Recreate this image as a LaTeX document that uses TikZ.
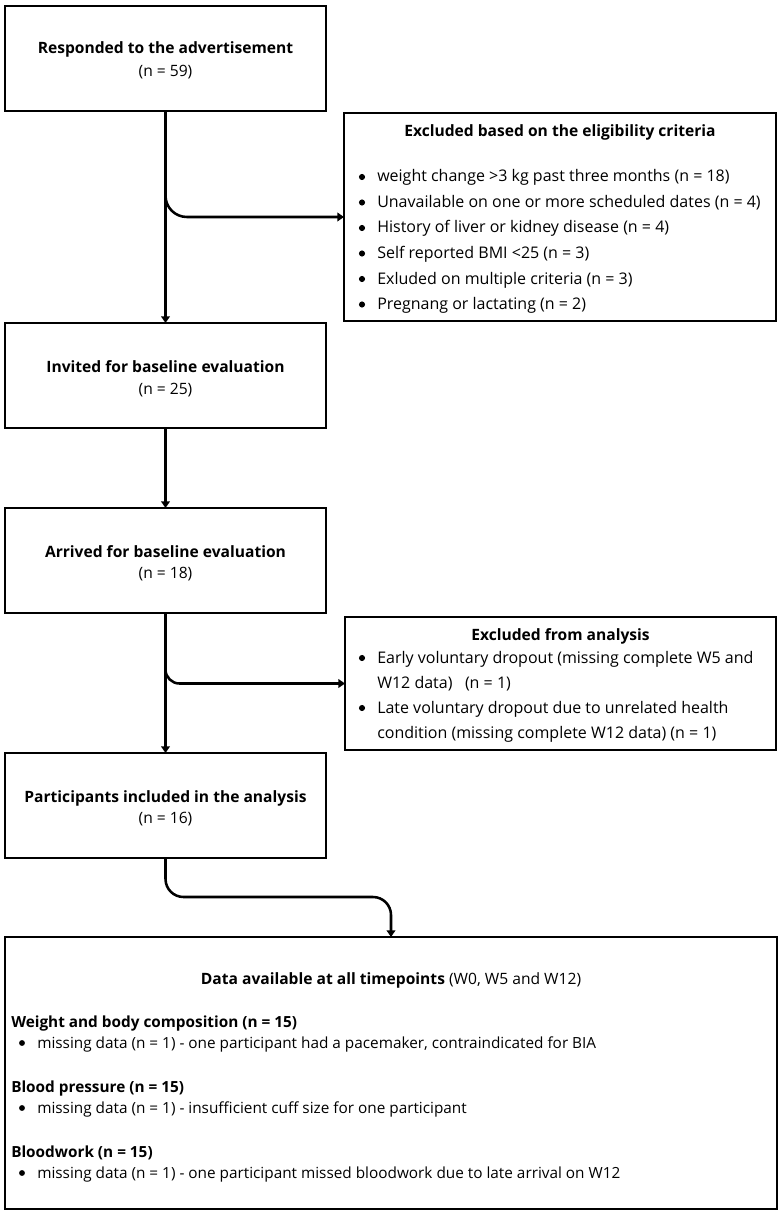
\documentclass[tikz,border=0pt]{standalone}
\usepackage{fontspec}
\setmainfont{Open Sans}
\usetikzlibrary{arrows.meta}
\begin{document}
\begin{tikzpicture}[x=0.75pt,y=-0.75pt,
  box/.style={draw=black,line width=2pt,inner sep=0pt,outer sep=0pt},
  smallbox/.style={box,minimum width=240.75pt,minimum height=78.75pt},
  conn/.style={line width=1.9pt,-{Triangle[length=5pt,width=6.5pt]}},
  tb/.style={inner sep=0pt,anchor=base,font=\fontsize{11.7}{14}\selectfont\bfseries},
  tr/.style={inner sep=0pt,anchor=base,font=\fontsize{11.7}{14}\selectfont},
  tl/.style={inner sep=0pt,anchor=base west,font=\fontsize{12}{14}\selectfont},
  tld/.style={inner sep=0pt,anchor=base west,font=\fontsize{11.5}{14}\selectfont},
  tlb/.style={inner sep=0pt,anchor=base west,font=\fontsize{11.5}{14}\selectfont\bfseries},
  dot/.style={fill=black}
]
\useasboundingbox (0,0) rectangle (781,1216);
% boxes
\node[smallbox] (b1) at (165.5,58.5) {};
\node[box,minimum width=324pt,minimum height=156pt] (e1) at (560,217) {};
\node[smallbox] (b2) at (165.5,375.5) {};
\node[smallbox] (b3) at (165.5,560.5) {};
\node[box,minimum width=323.25pt,minimum height=99.75pt] (e2) at (560.5,683.5) {};
\node[smallbox] (b4) at (165.5,805.5) {};
\node[box,minimum width=579pt,minimum height=204pt] (d) at (391,1073) {};

% box 1
\node[tb] (t1a) at (165.5,54) {Responded to the advertisement};
\node[tr] (t1b) at (165.5,77) {(n = 59)};
% excluded 1
\node[tb] (te1) at (560,137) {Excluded based on the eligibility criteria};
\node[tl] (e1l1) at (377,182) {weight change >3 kg past three months (n = 18)};
\node[tl] (e1l2) at (377,207.5) {Unavailable on one or more scheduled dates (n = 4)};
\node[tl] (e1l3) at (377,233) {History of liver or kidney disease (n = 4)};
\node[tl] (e1l4) at (377,258.5) {Self reported BMI <25 (n = 3)};
\node[tl] (e1l5) at (377,284) {Exluded on multiple criteria (n = 3)};
\node[tl] (e1l6) at (377,309.5) {Pregnang or lactating (n = 2)};
\foreach \yy in {182,207.5,233,258.5,284,309.5}{\fill[dot] (362,\yy-5) circle[radius=2.3pt];}
% box 2
\node[tb] (t2a) at (165.5,372) {Invited for baseline evaluation};
\node[tr] (t2b) at (165.5,394) {(n = 25)};
% box 3
\node[tb] (t3a) at (165.5,557) {Arrived for baseline evaluation};
\node[tr] (t3b) at (165.5,578) {(n = 18)};
% excluded 2
\node[tb] (te2) at (560.5,640) {Excluded from analysis};
\node[tl] (e2l1) at (377,663) {Early voluntary dropout (missing complete W5 and};
\node[tl] (e2l2) at (377,688) {W12 data)~~~(n = 1)};
\node[tl] (e2l3) at (377,713) {Late voluntary dropout due to unrelated health};
\node[tl] (e2l4) at (377,738) {condition (missing complete W12 data) (n = 1)};
\foreach \yy in {663,713}{\fill[dot] (362,\yy-5) circle[radius=2.3pt];}
% box 4
\node[tb] (t4a) at (165.5,802) {Participants included in the analysis};
\node[tr] (t4b) at (165.5,823) {(n = 16)};
% data box
\node[tr] (td) at (391,984) {\textbf{Data available at all timepoints} (W0, W5 and W12)};
\node[tlb] (dh1) at (11,1027) {Weight and body composition (n = 15)};
\node[tld] (dl1) at (37,1048) {missing data (n = 1) - one participant had a pacemaker, contraindicated for BIA};
\node[tlb] (dh2) at (11,1092) {Blood pressure (n = 15)};
\node[tld] (dl2) at (37,1113) {missing data (n = 1) - insufficient cuff size for one participant};
\node[tlb] (dh3) at (11,1157) {Bloodwork (n = 15)};
\node[tld] (dl3) at (37,1178) {missing data (n = 1) - one participant missed bloodwork due to late arrival on W12};
\foreach \yy in {1048,1113,1178}{\fill[dot] (22,\yy-5) circle[radius=2.2pt];}

% connectors
\draw[conn] (b1.south) -- (b2.north);
\draw[conn,rounded corners=16pt] (b1.south) |- (e1.west);
\draw[conn] (b2.south) -- (b3.north);
\draw[conn] (b3.south) -- (b4.north);
\draw[conn,rounded corners=10.5pt] (b3.south) |- (e2.west);
\coordinate (k) at (391,897);
\draw[conn,rounded corners=13.5pt] (b4.south) |- (k) -- (d.north);
\end{tikzpicture}
\end{document}
